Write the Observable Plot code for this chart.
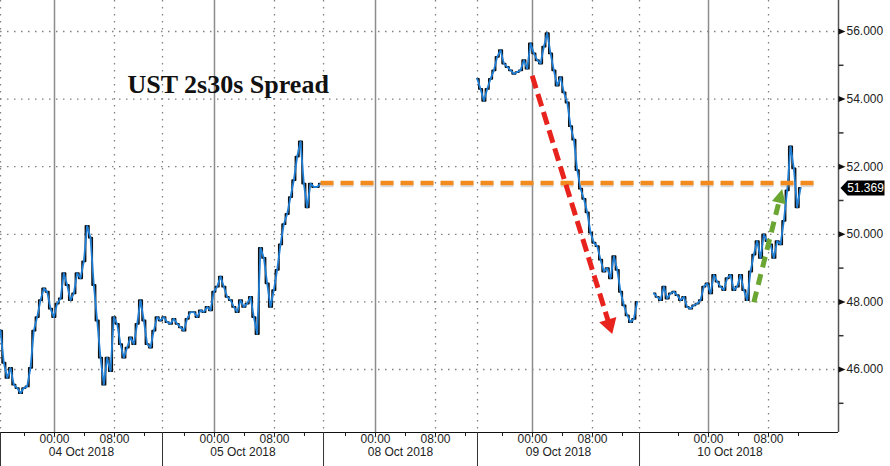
<!DOCTYPE html>
<html><head><meta charset="utf-8">
<script src="https://cdn.jsdelivr.net/npm/d3@7"></script>
<script src="https://cdn.jsdelivr.net/npm/@observablehq/plot@0.6"></script>
<style>html,body{margin:0;padding:0;background:#fff;} #chart svg{display:block;}</style>
</head><body><div id="chart"></div>
<script>
// ---- data (x in "chart hours": trading hours shown on the axis, gaps removed) ----
const stepHours = 4 / 9;
const seg1Start = 0;      // 04 Oct – 05 Oct
const seg1Values = [47.15,46.2,45.75,46.05,45.55,45.45,45.3,45.45,45.5,46.05,
  47.15,47.55,48.05,48.4,48.3,47.8,47.55,47.95,48.1,48.85,
  48.5,48.05,48.25,48.85,48.7,49.2,50.25,49.9,48.5,47.45,
  46.35,45.55,46.35,45.95,47.55,47.35,46.75,46.35,46.65,46.95,
  46.75,47.35,48.05,47.45,46.75,46.65,47.15,47.55,47.45,47.55,
  47.4,47.35,47.5,47.35,47.25,47.15,47.5,47.7,47.7,47.55,
  47.75,47.7,47.85,47.75,48.3,48.45,48.75,48.45,48.15,48.05,
  47.85,47.7,48.05,47.85,47.95,48.15,47.55,47.05,49.6,49.3,
  48.55,47.85,48.35,48.95,49.7,50.3,50.6,51.1,51.6,52.3,
  52.75,51.5,50.8,51.5,51.4,51.4,51.5];
const seg2Start = 63.56;  // 09 Oct
const seg2Values = [54.6,54.3,53.95,54.3,54.6,54.85,55.25,55.45,55.05,54.95,
  54.85,54.75,54.8,54.85,55.15,54.9,55.65,55.35,55.15,55.05,
  55.55,55.95,55.35,54.85,54.4,54.65,54.2,53.9,53.2,52.8,
  51.9,51.35,51.05,50.65,50.05,49.75,49.65,49.25,48.9,49.0,
  48.7,49.35,48.95,48.3,47.9,47.6,47.4,47.5,48.0];
const seg3Start = 87.11;  // 10 Oct
const seg3Values = [48.25,48.15,48.05,48.45,48.1,48.25,48.3,48.2,48.05,48.15,
  47.85,47.8,47.9,47.95,48.05,48.45,48.55,48.25,48.8,48.6,
  48.45,48.35,48.7,48.8,48.35,48.45,48.8,48.35,48.05,48.9,
  49.4,49.8,49.3,50.0,49.8,49.7,49.3,49.8,49.7,50.4,
  51.3,52.6,51.95,50.8,51.369];
const lastValue = 51.369;

const dayLabels = ["04 Oct 2018","05 Oct 2018","08 Oct 2018","09 Oct 2018","10 Oct 2018"];
const dayStartHours = [0, 21.6, 43.07, 63.6, 85.2];
const dayEndHours = [21.6, 43.07, 63.6, 85.2, 109.33];
const midnightHours = [7.2, 28.53, 50.0, 70.93, 94.4];
const timeLabels = ["00:00", "08:00"];
const timeOffsets = [0, 8];
const minorOffsets = [-4, 0, 4, 8, 12];

const yMajorTicks = [46, 48, 50, 52, 54, 56];
const yMinorTicks = [45, 47, 49, 51, 53, 55];

const titleText = "UST 2s30s Spread";
const orangeLevel = 51.52, orangeFrom = 42.67, orangeTo = 108.67;
const redArrow = {x1: 70.89, v1: 54.69, x2: 81.56, v2: 47.05};
const greenArrow = {x1: 100.44, v1: 47.99, x2: 104.22, v2: 51.34};

// ---- layout ----
const W = 890, H = 466, mR = 52, mB = 34;
const xMax = 111.73, yMin = 44.136, yMax = 56.917;
const pxPerHour = (W - mR) / xMax;
const pxPerUnit = (H - mB) / (yMax - yMin);

const series = (start, vals, seg) => vals.map((v, i) => ({x: start + i * stepHours, v, seg}));
const pts = [...series(seg1Start, seg1Values, 1), ...series(seg2Start, seg2Values, 2), ...series(seg3Start, seg3Values, 3)];

const timeTicks = midnightHours.flatMap(m => timeOffsets.map((o, j) => ({x: m + o, label: timeLabels[j]})));
const minorX = midnightHours.flatMap(m => minorOffsets.map(o => m + o));
const dottedX = [...dayStartHours, ...midnightHours.map(m => m + 8)];
const days = dayLabels.map((l, i) => ({label: l, x: (dayStartHours[i] + dayEndHours[i]) / 2}));

// symbols
const triRight = {draw(ctx){ ctx.moveTo(0,-3); ctx.lineTo(7,0); ctx.lineTo(0,3); ctx.closePath(); }};
const dash = {draw(ctx){ ctx.moveTo(0,0); ctx.lineTo(5,0); }};
const tag = {draw(ctx){ ctx.moveTo(2,0); ctx.lineTo(9,-7.5); ctx.lineTo(46,-7.5); ctx.lineTo(46,7.5); ctx.lineTo(9,7.5); ctx.closePath(); }};

function arrowParts(a, len, halfW){
  const dxp = (a.x2 - a.x1) * pxPerHour, dyp = -(a.v2 - a.v1) * pxPerUnit;
  const ang = Math.atan2(dyp, dxp), c = Math.cos(ang), s = Math.sin(ang);
  const head = {draw(ctx){
    const bx = -len * c, by = -len * s;
    ctx.moveTo(0, 0);
    ctx.lineTo(bx - halfW * s, by + halfW * c);
    ctx.lineTo(bx + halfW * s, by - halfW * c);
    ctx.closePath();
  }};
  const shaft = {x1: a.x1, v1: a.v1, x2: a.x2 - (len - 1) * c / pxPerHour, v2: a.v2 + (len - 1) * s / pxPerUnit};
  return {head, shaft};
}
const red = arrowParts(redArrow, 15, 9);
const green = arrowParts(greenArrow, 14, 7);

const axisFont = "Liberation Sans";
const plot = Plot.plot({
  width: W, height: H,
  marginLeft: 0, marginRight: mR, marginTop: 0, marginBottom: mB,
  style: {fontFamily: axisFont, fontSize: "12px", background: "#fff", color: "#1a1a1a"},
  x: {domain: [0, xMax]},
  y: {domain: [yMin, yMax]},
  marks: [
    // grid
    Plot.ruleY(yMajorTicks, {stroke: "#808080", strokeWidth: 1.3, strokeDasharray: "1.5,5.5"}),
    Plot.ruleX(dottedX, {stroke: "#808080", strokeWidth: 1.3, strokeDasharray: "1.5,5.5"}),
    Plot.ruleX(midnightHours, {stroke: "#8c8c8c", strokeWidth: 1.5}),
    // title
    Plot.text([titleText], {frameAnchor: "top-left", dx: 127, dy: 92, lineAnchor: "bottom", textAnchor: "start",
      fontFamily: "Liberation Serif", fontWeight: "bold", fontSize: 26, fill: "#111"}),
    // series
    Plot.line(pts, {x: "x", y: "v", z: "seg", curve: "step", stroke: "#111", strokeWidth: 1.8}),
    Plot.line(pts, {x: "x", y: "v", z: "seg", stroke: "#1f7fd6", strokeWidth: 1.8}),
    // orange level line
    Plot.link([{x1: orangeFrom, x2: orangeTo, v: orangeLevel}], {x1: "x1", x2: "x2", y1: "v", y2: "v",
      stroke: "#999", strokeOpacity: 0.35, strokeWidth: 4.5, strokeDasharray: "13,7", dy: 2}),
    Plot.link([{x1: orangeFrom, x2: orangeTo, v: orangeLevel}], {x1: "x1", x2: "x2", y1: "v", y2: "v",
      stroke: "#f28a1e", strokeWidth: 4.5, strokeDasharray: "13,7"}),
    // red arrow
    Plot.link([red.shaft], {x1: "x1", y1: "v1", x2: "x2", y2: "v2", stroke: "#e8221c", strokeWidth: 5, strokeDasharray: "13,6"}),
    Plot.dot([redArrow], {x: "x2", y: "v2", symbol: red.head, fill: "#e8221c", stroke: "none"}),
    // green arrow
    Plot.link([green.shaft], {x1: "x1", y1: "v1", x2: "x2", y2: "v2", stroke: "#6aa631", strokeWidth: 5, strokeDasharray: "11,7"}),
    Plot.dot([greenArrow], {x: "x2", y: "v2", symbol: green.head, fill: "#6aa631", stroke: "none"}),
    // axes frame lines
    Plot.ruleY([yMin], {stroke: "#111", strokeWidth: 1}),
    Plot.ruleX([xMax], {stroke: "#555", strokeWidth: 1.5}),
    // y axis
    Plot.dot(yMajorTicks, {x: () => xMax, y: d => d, symbol: triRight, fill: "#111", stroke: "none"}),
    Plot.dot(yMinorTicks, {x: () => xMax, y: d => d, symbol: dash, stroke: "#333", fill: "none"}),
    Plot.axisY(yMajorTicks, {anchor: "right", tickSize: 0, tickPadding: 8, tickFormat: d3.format(".3f"), fontSize: 12, fill: "#222"}),
    // last value tag
    Plot.dot([lastValue], {x: () => xMax, y: d => d, symbol: tag, fill: "#000", stroke: "none"}),
    Plot.text([lastValue], {x: () => xMax, y: d => d, text: d => d3.format(".3f")(d), dx: 27, fill: "#fff", fontSize: 12}),
    // x axis
    Plot.axisX(minorX, {anchor: "bottom", tickSize: 4, tickFormat: () => ""}),
    Plot.axisX(dayStartHours, {anchor: "bottom", tickSize: 34, tickFormat: () => "", stroke: "#333"}),
    Plot.text(timeTicks, {x: "x", text: "label", frameAnchor: "bottom", dy: 10, fill: "#222", fontSize: 12}),
    Plot.text(days, {x: "x", text: "label", frameAnchor: "bottom", dy: 23, fill: "#222", fontSize: 12})
  ]
});
document.getElementById("chart").appendChild(plot);
</script>
</body></html>
